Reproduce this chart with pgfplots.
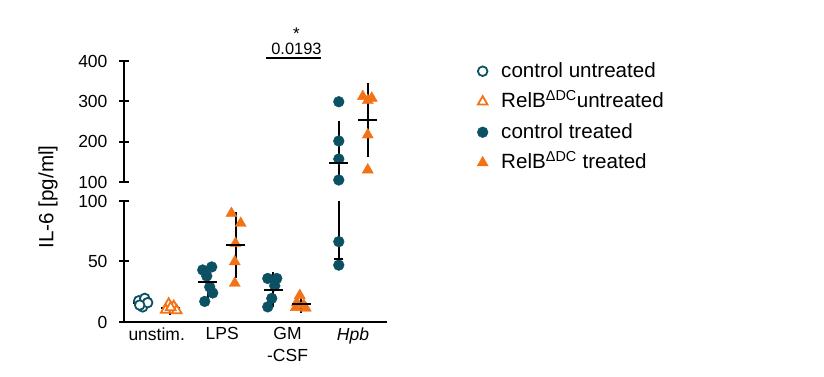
\documentclass[border=0pt]{standalone}
\usepackage{pgfplots}
\pgfplotsset{compat=1.18}
\usepackage{fontspec}
\setmainfont{Liberation Sans}
\definecolor{tealc}{RGB}{11,80,99}
\definecolor{orng}{RGB}{244,114,22}
\newcommand{\tickfont}{\fontsize{17.5}{22}\selectfont}
\newcommand{\labfont}{\fontsize{20.6}{24}\selectfont}
\newcommand{\sigfont}{\fontsize{16.4}{19}\selectfont}
\pgfplotsset{
  mylegimg/.style={legend image code/.code={\draw[##1] plot coordinates {(0pt,0pt)};}},
  ctrlU/.style={only marks, mark=*, mark size=4.8pt, color=tealc, line width=1.8pt,
    mark options={fill=white, draw=tealc}, mylegimg},
  relbU/.style={only marks, mark=triangle*, mark size=5.6pt, color=orng, line width=1.8pt,
    mark options={fill=white, draw=orng}, mylegimg},
  ctrlT/.style={only marks, mark=*, mark size=5.4pt, color=tealc, line width=0.4pt, mylegimg},
  relbT/.style={only marks, mark=triangle*, mark size=6.4pt, color=orng, line width=0.4pt, mylegimg},
  meanerr/.style={forget plot, only marks, black, mark=-, mark size=9.5pt, line width=2pt,
    error bars/.cd, y dir=#1, y explicit, error mark=-,
    error mark options={black, mark size=4.5pt, line width=2pt},
    error bar style={line width=2pt, black}},
  meanerr/.default=both,
  base/.style={
    scale only axis, width=263pt, height=121pt,
    xmin=-0.5, xmax=3.52, anchor=south west, clip=false,
    ytick style={line width=2pt, black},
    tick align=outside, major tick length=10pt,
    /pgf/number format/assume math mode=true,
    yticklabel style={font=\tickfont, xshift=-8pt},
  },
  nolinearrows/.style={axis line style={line width=2pt, -},
    x axis line style={-}, y axis line style={-}},
}
\begin{document}
\begin{tikzpicture}
\path[use as bounding box] (0pt,0pt) rectangle (824pt,377pt);
% lower segment
\begin{axis}[base, at={(124pt,55pt)}, ymin=0, ymax=100,
  axis x line=bottom, axis y line=left, nolinearrows,
  ytick={0,50,100},
  xtick={0,1,2,3}, xticklabels={unstim., LPS, {GM\\-CSF}, \textit{Hpb}},
  xtick style={draw=none},
  xticklabel style={align=center, anchor=north, font=\tickfont, yshift=3pt},
]
% unstim. mean +- SD lie under their open markers
\addplot[meanerr] coordinates {(-0.22,15.9) +- (0,2.8) (0.21,11.9) +- (0,2.3)};
\addplot[ctrlU, forget plot] coordinates {(-0.275,17.5) (-0.183,19.5) (-0.214,12.5) (-0.138,16) (-0.26,14)};
\addplot[relbU, forget plot] coordinates {(0.183,15) (0.26,13) (0.138,10) (0.306,9.5) (0.214,12)};
\addplot[ctrlT, forget plot] coordinates {(0.703,43) (0.841,45.5) (0.765,38) (0.81,29) (0.856,24) (0.734,17)};
\addplot[relbT, forget plot] coordinates {(1.142,89.8) (1.284,81.6) (1.203,65) (1.193,49.8) (1.193,32)};
\addplot[ctrlT, forget plot] coordinates {(1.697,36) (1.835,36) (1.804,30) (1.758,19.5) (1.697,12.5)};
\addplot[relbT, forget plot] coordinates {(2.187,22) (2.141,16) (2.248,14) (2.125,12) (2.278,11.5)};
\addplot[black, line width=2pt, forget plot] coordinates {(2.783,100) (2.783,51.7)};
\addplot[ctrlT, forget plot] coordinates {(2.783,66.4) (2.783,47)};
\addplot[black, only marks, mark=-, mark size=4.5pt, line width=2pt, forget plot] coordinates {(2.783,51.7)};
\addplot[meanerr] coordinates {
  (0.78,32.8) +- (0,11.3)
  (1.21,63.6) +- (0,23.5)
  (1.78,26.8) +- (0,10.5)
  (2.21,15.1) +- (0,4.3)
};
\end{axis}
% upper segment
\begin{axis}[base, at={(124pt,195pt)}, ymin=100, ymax=400,
  axis x line=none, axis y line=left, nolinearrows,
  ytick={100,200,300,400}, xtick=\empty,
  legend cell align=left,
  legend style={at={(rel axis cs:1.342,1.008)}, anchor=north west, draw=none, fill=none,
    font=\labfont, row sep=8.5pt, inner sep=0pt,
    nodes={inner sep=0pt, text height=17pt, text depth=5pt},
    /tikz/every odd column/.append style={column sep=13pt}},
]
\addlegendimage{ctrlU}
\addlegendentry{control untreated}
\addlegendimage{relbU}
\addlegendentry{RelB\textsuperscript{ΔDC}untreated}
\addplot[ctrlT] coordinates {(2.783,299) (2.783,201.7) (2.783,157) (2.783,105)};
\addlegendentry{control treated}
\addplot[relbT] coordinates {(3.15,312) (3.287,308) (3.226,302) (3.226,217) (3.226,130)};
\addlegendentry{RelB\textsuperscript{ΔDC} treated}
\addplot[black, line width=2pt, forget plot] coordinates {(2.783,146) (2.783,100)};
\addplot[meanerr=plus] coordinates {(2.783,146) += (0,94.3)};
\addplot[meanerr] coordinates {(3.222,253.8) +- (0,79.6)};
\draw[line width=2pt] (axis cs:1.677,407) -- (axis cs:2.518,407);
\node[anchor=base, font=\sigfont, inner sep=0pt] at (axis cs:2.136,415) {0.0193};
\node[anchor=base, font=\fontsize{17}{19}\selectfont, inner sep=0pt] at (axis cs:2.136,453) {*};
\end{axis}
\node[rotate=90, font=\labfont] at (48pt,180pt) {IL-6 [pg/ml]};
\end{tikzpicture}
\end{document}
